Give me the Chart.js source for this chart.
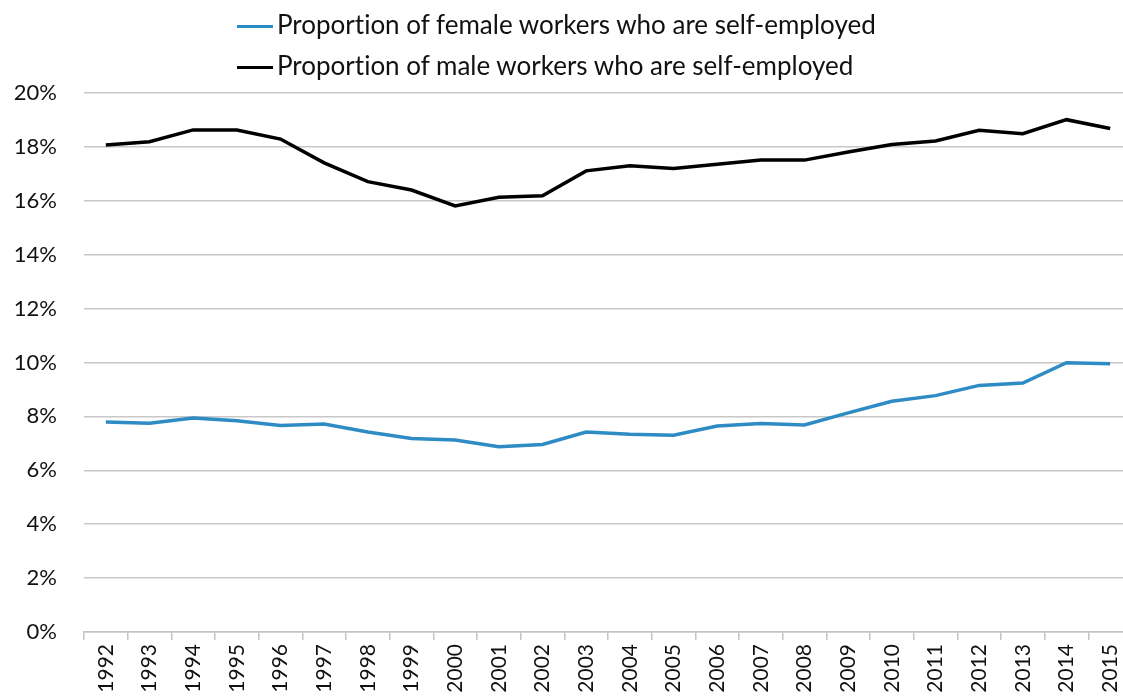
<!DOCTYPE html>
<html>
<head>
<meta charset="utf-8">
<script src="https://cdn.jsdelivr.net/npm/chart.js@4/dist/chart.umd.min.js"></script>
<style>
  html, body { margin: 0; padding: 0; background: #fff; overflow: hidden; }
  #wrap { position: relative; width: 1123px; height: 697px; overflow: hidden; }
  #chart { position: absolute; left: 0; top: 0; }
  .leg { position: absolute; left: 237px; font-family: Lato, "DejaVu Sans", sans-serif; font-size: 26px; color: #111; white-space: nowrap; line-height: 1; font-variant-ligatures: none; }
  .leg i { display: inline-block; width: 36px; height: 3.5px; vertical-align: middle; margin-right: 4px; position: relative; top: -1px; }
</style>
</head>
<body>
<div id="wrap">
  <canvas id="chart" width="1140" height="697"></canvas>
  <div class="leg" style="top:11px"><i style="background:#2E8BC4"></i>Proportion of female workers who are self-employed</div>
  <div class="leg" style="top:52px"><i style="background:#000"></i>Proportion of male workers who are self-employed</div>
</div>
<script>
const years = ['1992','1993','1994','1995','1996','1997','1998','1999','2000','2001','2002','2003',
  '2004','2005','2006','2007','2008','2009','2010','2011','2012','2013','2014','2015'];
const female = [7.79, 7.75, 7.94, 7.84, 7.66, 7.72, 7.42, 7.18, 7.12, 6.87, 6.96, 7.42,
  7.34, 7.30, 7.64, 7.74, 7.68, 8.13, 8.56, 8.77, 9.15, 9.24, 9.99, 9.95];
const male = [18.07, 18.19, 18.63, 18.63, 18.29, 17.41, 16.71, 16.40, 15.81, 16.13, 16.19, 17.11,
  17.30, 17.20, 17.36, 17.51, 17.51, 17.81, 18.09, 18.22, 18.62, 18.49, 19.01, 18.68];
const yTicks = [0, 2, 4, 6, 8, 10, 12, 14, 16, 18, 20];

const yFont = { family: 'Lato, "DejaVu Sans", sans-serif', size: 22 };
const xFont = { family: 'Lato, "DejaVu Sans", sans-serif', size: 21 };

new Chart(document.getElementById('chart'), {
  type: 'line',
  data: {
    labels: years,
    datasets: [
      { label: 'Proportion of female workers who are self-employed', data: female,
        borderColor: '#2E8BC4', borderWidth: 3.5, pointRadius: 0, tension: 0 },
      { label: 'Proportion of male workers who are self-employed', data: male,
        borderColor: '#000000', borderWidth: 3.5, pointRadius: 0, tension: 0 },
    ],
  },
  options: {
    responsive: false, animation: false,
    layout: { padding: { top: 93, right: 8, left: 0, bottom: 0 } },
    plugins: { legend: { display: false }, tooltip: { enabled: false } },
    scales: {
      x: {
        offset: true,
        grid: { offset: true, drawOnChartArea: false, drawTicks: true, tickLength: 8, color: '#c4c4c4', lineWidth: 1.5 },
        border: { color: '#c4c4c4', width: 1.5 },
        ticks: { font: xFont, color: '#111', minRotation: 90, maxRotation: 90, padding: 4, autoSkip: false },
        afterFit: (s) => { s.height = 65; },
      },
      y: {
        min: 0, max: 20,
        afterBuildTicks: (s) => { s.ticks = yTicks.map(v => ({ value: v })); },
        grid: { color: '#c8c8c8', lineWidth: 1.5, drawTicks: false },
        border: { display: false },
        ticks: { font: yFont, color: '#111', padding: 27, callback: (v) => v + '%' },
        afterFit: (s) => { s.width = 84; },
      },
    },
  },
});
</script>
</body>
</html>
